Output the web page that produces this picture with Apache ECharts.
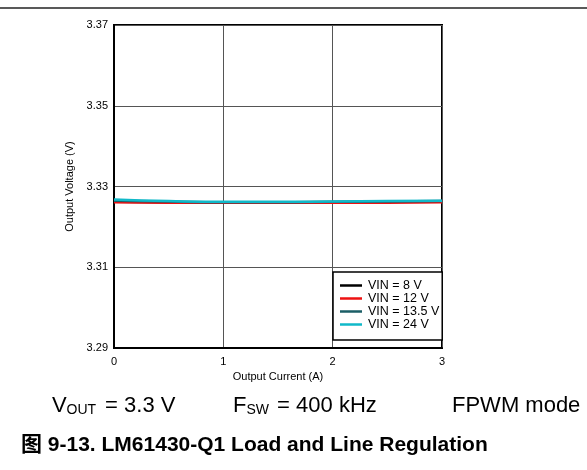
<!DOCTYPE html>
<html><head><meta charset="utf-8">
<script src="https://cdn.jsdelivr.net/npm/echarts@6/dist/echarts.min.js"></script>
<style>html,body{margin:0;padding:0;background:#fff}#c{width:587px;height:470px}</style>
</head><body><div id="c"></div>
<script>
const current = [0, 0.5, 1, 1.5, 2, 2.5, 3];
const vin8 = [3.3262, 3.3261, 3.3260, 3.3260, 3.3261, 3.3262, 3.3263];
const vin12 = [3.3261, 3.3260, 3.3260, 3.3260, 3.3260, 3.3260, 3.3261];
const vin135 = [3.3265, 3.3263, 3.3261, 3.3261, 3.3262, 3.3263, 3.3264];
const vin24 = [3.3268, 3.3264, 3.3262, 3.3262, 3.3263, 3.3264, 3.3265];
const seriesNames = ['VIN = 8 V', 'VIN = 12 V', 'VIN = 13.5 V', 'VIN = 24 V'];
const seriesColors = ['#000000', '#ee1111', '#1b5e66', '#10b9c9'];
const xTicks = [0, 1, 2, 3];
const yTicks = [3.29, 3.31, 3.33, 3.35, 3.37];

const allData = [vin8, vin12, vin135, vin24];
const font = 'Liberation Sans, Arial, sans-serif';
const capFont = 'Liberation Sans, Arial, "Noto Sans CJK SC", sans-serif';
function txt(x, y, s, size, extra) {
  return Object.assign({type: 'text', x: x, y: y, style: {text: s, fontSize: size, fontFamily: font, fill: '#000', verticalAlign: 'middle', align: 'left'}}, extra || {});
}
const chart = echarts.init(document.getElementById('c'), null, {renderer: 'canvas'});
chart.setOption({
  animation: false,
  backgroundColor: '#fff',
  grid: {left: 114, right: 145, top: 25, bottom: 122, show: true, borderColor: '#000', borderWidth: 2, backgroundColor: 'transparent'},
  xAxis: {
    type: 'value', min: 0, max: 3, interval: 1,
    name: 'Output Current (A)', nameLocation: 'middle', nameGap: 19,
    nameTextStyle: {fontFamily: font, fontSize: 11, color: '#000'},
    axisLine: {show: true, lineStyle: {color: '#000', width: 2}},
    axisTick: {show: false},
    axisLabel: {fontFamily: font, fontSize: 11, color: '#000', margin: 8, formatter: v => String(v)},
    splitLine: {show: true, lineStyle: {color: '#555', width: 1}}
  },
  yAxis: {
    type: 'value', min: 3.29, max: 3.37, interval: 0.02,
    name: 'Output Voltage (V)', nameLocation: 'middle', nameGap: 38,
    nameTextStyle: {fontFamily: font, fontSize: 11, color: '#000'},
    axisLine: {show: true, lineStyle: {color: '#000', width: 2}},
    axisTick: {show: false},
    axisLabel: {fontFamily: font, fontSize: 11, color: '#000', margin: 6, formatter: v => v.toFixed(2)},
    splitLine: {show: true, lineStyle: {color: '#555', width: 1}}
  },
  legend: {
    orient: 'vertical', left: 333, top: 272,
    padding: [7, 3, 9, 7],
    backgroundColor: '#fff', borderColor: '#000', borderWidth: 1.5,
    itemWidth: 22, itemHeight: 2.5, itemGap: 0, icon: 'rect',
    textStyle: {fontFamily: font, fontSize: 12.5, color: '#000', lineHeight: 12, padding: [0, 0, 0, 1]},
    data: seriesNames
  },
  series: allData.map((d, i) => ({
    name: seriesNames[i], type: 'line', smooth: true, showSymbol: false, symbol: 'none',
    data: d.map((v, j) => [current[j], v]),
    lineStyle: {color: seriesColors[i], width: 2.5},
    itemStyle: {color: seriesColors[i]},
    z: 2 + i
  })),
  graphic: [
    {type: 'line', shape: {x1: 0, y1: 8, x2: 587, y2: 8}, style: {stroke: '#222', lineWidth: 1.5}},
    txt(52, 405.5, 'V', 22),
    txt(66.5, 410.5, 'OUT', 14),
    txt(99, 405.5, ' = 3.3 V', 22),
    txt(233, 405.5, 'F', 22),
    txt(246.5, 410.5, 'SW', 14),
    txt(271, 405.5, ' = 400 kHz', 22),
    txt(452, 405.5, 'FPWM mode', 22),
    {type: 'text', x: 21, y: 445.5, style: {text: '图 9-13. LM61430-Q1 Load and Line Regulation', fontSize: 21, fontWeight: 'bold', fontFamily: capFont, fill: '#000', verticalAlign: 'middle'}}
  ]
});
</script></body></html>
